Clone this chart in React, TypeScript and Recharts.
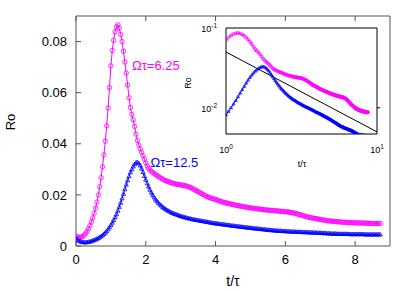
import React from 'react'
import { LineChart, Line, XAxis, YAxis } from 'recharts'

const FONT = '"Liberation Sans", Arial, sans-serif'
const MAGENTA = '#ff00ff'
const BLUE = '#0000ff'

// sampling step of the simulation output (t/tau)
const DT = 0.04

// Omega tau = 6.25
const roMagenta = [
  0.0038, 0.0035, 0.0033, 0.0033, 0.0035, 0.0038, 0.0043, 0.0050, 0.0058, 0.0068,
  0.0080, 0.0094, 0.0110, 0.0128, 0.0148, 0.0172, 0.0200, 0.0232, 0.0268, 0.0310,
  0.0357, 0.0410, 0.0470, 0.0540, 0.0620, 0.0705, 0.0765, 0.0805, 0.0838, 0.0858,
  0.0866, 0.0852, 0.0828, 0.0800, 0.0762, 0.0720, 0.0677, 0.0630, 0.0580, 0.0542,
  0.0515, 0.0494, 0.0468, 0.0438, 0.0413, 0.0395, 0.0380, 0.0366, 0.0353, 0.0340,
  0.0325, 0.0313, 0.0304, 0.0297, 0.0292, 0.0288, 0.0284, 0.0280, 0.0276, 0.0272,
  0.0269, 0.0265, 0.0262, 0.0259, 0.0256, 0.0254, 0.0252, 0.0250, 0.0248, 0.0246,
  0.0244, 0.0243, 0.0242, 0.0241, 0.0240, 0.0239, 0.0238, 0.0237, 0.0236, 0.0235,
  0.0233, 0.0231, 0.0229, 0.0226, 0.0223, 0.0220, 0.0217, 0.0214, 0.0211, 0.0208,
  0.0205, 0.0202, 0.0199, 0.0196, 0.0193, 0.0191, 0.0189, 0.0187, 0.0185, 0.0184,
  0.0182, 0.0180, 0.0178, 0.0176, 0.0174, 0.0172, 0.0171, 0.0169, 0.0168, 0.0167,
  0.0165, 0.0164, 0.0163, 0.0162, 0.0160, 0.0159, 0.0158, 0.0157, 0.0156, 0.0155,
  0.0154, 0.0153, 0.0152, 0.0151, 0.0150, 0.0149, 0.0148, 0.0148, 0.0147, 0.0146,
  0.0145, 0.0145, 0.0144, 0.0143, 0.0142, 0.0142, 0.0141, 0.0141, 0.0140, 0.0140,
  0.0139, 0.0139, 0.0138, 0.0138, 0.0137, 0.0137, 0.0136, 0.0136, 0.0135, 0.0135,
  0.0134, 0.0134, 0.0133, 0.0132, 0.0131, 0.0130, 0.0129, 0.0128, 0.0126, 0.0125,
  0.0123, 0.0122, 0.0120, 0.0118, 0.0117, 0.0115, 0.0114, 0.0112, 0.0111, 0.0110,
  0.0109, 0.0108, 0.0107, 0.0106, 0.0105, 0.0104, 0.0103, 0.0102, 0.0101, 0.0100,
  0.0099, 0.0098, 0.0098, 0.0097, 0.0097, 0.0096, 0.0096, 0.0095, 0.0095, 0.0094,
  0.0094, 0.0093, 0.0093, 0.0093, 0.0092, 0.0092, 0.0092, 0.0091, 0.0091, 0.0091,
  0.0091, 0.0090, 0.0090, 0.0090, 0.0090, 0.0090, 0.0089, 0.0089, 0.0089, 0.0089,
  0.0089, 0.0089, 0.0088, 0.0088, 0.0088, 0.0088, 0.0088, 0.0088, 0.0088,
]

// Omega tau = 12.5
const roBlue = [
  0.0028, 0.0024, 0.0020, 0.0017, 0.0015, 0.0014, 0.0013, 0.0013, 0.0014, 0.0015,
  0.0016, 0.0018, 0.0020, 0.0022, 0.0024, 0.0027, 0.0030, 0.0033, 0.0037, 0.0041,
  0.0046, 0.0051, 0.0057, 0.0064, 0.0072, 0.0081, 0.0090, 0.0100, 0.0111, 0.0123,
  0.0137, 0.0152, 0.0168, 0.0185, 0.0203, 0.0221, 0.0239, 0.0256, 0.0272, 0.0287,
  0.0299, 0.0310, 0.0319, 0.0325, 0.0327, 0.0323, 0.0314, 0.0302, 0.0288, 0.0273,
  0.0258, 0.0244, 0.0231, 0.0219, 0.0208, 0.0198, 0.0189, 0.0181, 0.0174, 0.0168,
  0.0162, 0.0157, 0.0152, 0.0148, 0.0144, 0.0140, 0.0137, 0.0134, 0.0131, 0.0128,
  0.0126, 0.0124, 0.0122, 0.0120, 0.0118, 0.0116, 0.0114, 0.0113, 0.0111, 0.0110,
  0.0108, 0.0107, 0.0106, 0.0104, 0.0103, 0.0102, 0.0101, 0.0100, 0.0099, 0.0098,
  0.0097, 0.0096, 0.0095, 0.0094, 0.0093, 0.0092, 0.0091, 0.0090, 0.0089, 0.0088,
  0.0087, 0.0087, 0.0086, 0.0085, 0.0084, 0.0084, 0.0083, 0.0082, 0.0081, 0.0081,
  0.0080, 0.0079, 0.0078, 0.0078, 0.0077, 0.0076, 0.0076, 0.0075, 0.0074, 0.0074,
  0.0073, 0.0072, 0.0072, 0.0071, 0.0070, 0.0070, 0.0069, 0.0068, 0.0068, 0.0067,
  0.0067, 0.0066, 0.0065, 0.0065, 0.0064, 0.0064, 0.0063, 0.0062, 0.0062, 0.0061,
  0.0061, 0.0060, 0.0060, 0.0059, 0.0059, 0.0058, 0.0058, 0.0058, 0.0057, 0.0057,
  0.0057, 0.0056, 0.0056, 0.0056, 0.0055, 0.0055, 0.0055, 0.0055, 0.0054, 0.0054,
  0.0054, 0.0054, 0.0053, 0.0053, 0.0053, 0.0053, 0.0052, 0.0052, 0.0052, 0.0052,
  0.0051, 0.0051, 0.0051, 0.0051, 0.0050, 0.0050, 0.0050, 0.0049, 0.0049, 0.0049,
  0.0048, 0.0048, 0.0048, 0.0047, 0.0047, 0.0047, 0.0047, 0.0047, 0.0046, 0.0046,
  0.0046, 0.0046, 0.0046, 0.0046, 0.0046, 0.0046, 0.0045, 0.0045, 0.0045, 0.0045,
  0.0045, 0.0045, 0.0045, 0.0045, 0.0045, 0.0045, 0.0045, 0.0044, 0.0044, 0.0044,
  0.0044, 0.0044, 0.0044, 0.0044, 0.0044, 0.0044, 0.0044, 0.0044, 0.0044,
]

// reference power law in the inset, Ro ~ t^-1
const powerT = [1, 10]
const powerRo = [0.05, 0.005]

const xTicks = [0, 2, 4, 6, 8]
const yTicks = [0, 0.02, 0.04, 0.06, 0.08]
const yTickLabels = ['0', '0.02', '0.04', '0.06', '0.08']
const insetXTicks = [1, 10]
const insetXExp = ['0', '1']
const insetYTicks = [0.01, 0.1]
const insetYExp = ['-2', '-1']

const rows = roMagenta.map((m, i) => ({
  t: Math.round(i * DT * 100) / 100,
  m,
  b: roBlue[i],
}))
const insetRows = rows.filter(r => r.t >= 1)
const powerRows = powerT.map((t, i) => ({ t, p: powerRo[i] }))

const circleDot = (r: number) => (p: any) => (
  <circle key={`c-${p.index}`} cx={p.cx} cy={p.cy} r={r} fill="none" stroke={MAGENTA} strokeWidth={0.8} />
)

const triDot = (s: number) => (p: any) => (
  <path
    key={`t-${p.index}`}
    d={`M${p.cx},${p.cy - s} L${p.cx + s * 0.87},${p.cy + s * 0.5} L${p.cx - s * 0.87},${p.cy + s * 0.5} Z`}
    fill="none"
    stroke={BLUE}
    strokeWidth={0.8}
  />
)

function PowTick(props: any) {
  const { x, y, payload, textAnchor, orientation } = props
  const v = payload.value
  let exp = ''
  if (orientation === 'bottom') exp = insetXExp[insetXTicks.indexOf(v)]
  else exp = insetYExp[insetYTicks.indexOf(v)]
  const baseY = orientation === 'bottom' ? y : y + 4
  return (
    <text x={x} y={baseY} textAnchor={textAnchor} fontSize={9} fill="#000" fontFamily={FONT}>
      10<tspan dy={-4} fontSize={6.5}>{exp}</tspan>
    </text>
  )
}

const noTick = () => <g />

export default function App() {
  const tickStyle = { fill: '#000', fontSize: 13, fontFamily: FONT }
  return (
    <div style={{ position: 'absolute', left: 0, top: 0, width: 415, height: 291, background: '#fff' }}>
      <LineChart width={415} height={291} data={rows} margin={{ top: 15, right: 24, bottom: 0, left: 0 }}>
        <XAxis
          xAxisId="b"
          dataKey="t"
          type="number"
          domain={[0, 9]}
          ticks={xTicks}
          interval={0}
          height={45}
          tickSize={-5}
          tickMargin={14}
          stroke="#555"
          tick={tickStyle}
          allowDataOverflow
        />
        <XAxis
          xAxisId="top"
          orientation="top"
          dataKey="t"
          type="number"
          domain={[0, 9]}
          ticks={xTicks}
          interval={0}
          height={1}
          tickSize={-5}
          stroke="#555"
          tick={noTick}
        />
        <YAxis
          yAxisId="l"
          type="number"
          domain={[0, 0.09]}
          ticks={yTicks}
          interval={0}
          width={76}
          tickSize={-5}
          tickMargin={14}
          stroke="#555"
          tick={tickStyle}
          tickFormatter={(v: number) => yTickLabels[yTicks.indexOf(v)] ?? String(v)}
        />
        <YAxis
          yAxisId="r"
          orientation="right"
          type="number"
          domain={[0, 0.09]}
          ticks={yTicks}
          interval={0}
          width={1}
          tickSize={-5}
          stroke="#555"
          tick={noTick}
        />
        <Line
          xAxisId="b"
          yAxisId="l"
          dataKey="m"
          stroke={MAGENTA}
          strokeWidth={1}
          dot={circleDot(2.2)}
          isAnimationActive={false}
        />
        <Line
          xAxisId="b"
          yAxisId="l"
          dataKey="b"
          stroke={BLUE}
          strokeWidth={1}
          dot={triDot(2.4)}
          isAnimationActive={false}
        />
      </LineChart>

      <div style={{ position: 'absolute', left: 166, top: 10 }}>
        <LineChart width={224} height={160} data={insetRows} margin={{ top: 17, right: 12, bottom: 0, left: 0 }}>
          <XAxis
            xAxisId="b"
            dataKey="t"
            type="number"
            scale="log"
            domain={[1, 10]}
            ticks={insetXTicks}
            interval={0}
            allowDataOverflow
            height={36}
            tickSize={0}
            tickMargin={19}
            tickLine={false}
            stroke="#000"
            tick={PowTick}
          />
          <XAxis
            xAxisId="top"
            orientation="top"
            dataKey="t"
            type="number"
            scale="log"
            domain={[1, 10]}
            ticks={insetXTicks}
            allowDataOverflow
            height={1}
            tickLine={false}
            stroke="#000"
            tick={noTick}
          />
          <YAxis
            yAxisId="l"
            type="number"
            scale="log"
            domain={[0.0047, 0.1]}
            ticks={insetYTicks}
            interval={0}
            allowDataOverflow
            width={60}
            tickSize={0}
            tickMargin={9}
            tickLine={false}
            stroke="#000"
            tick={PowTick}
          />
          <YAxis
            yAxisId="r"
            orientation="right"
            type="number"
            scale="log"
            domain={[0.0047, 0.1]}
            ticks={[0.01]}
            interval={0}
            allowDataOverflow
            width={1}
            tickSize={3}
            stroke="#000"
            tick={noTick}
          />
          <Line
            xAxisId="b"
            yAxisId="l"
            dataKey="m"
            stroke={MAGENTA}
            strokeWidth={1}
            dot={circleDot(1.5)}
            isAnimationActive={false}
          />
          <Line
            xAxisId="b"
            yAxisId="l"
            dataKey="b"
            stroke={BLUE}
            strokeWidth={1}
            dot={triDot(1.7)}
            isAnimationActive={false}
          />
          <Line
            xAxisId="b"
            yAxisId="l"
            data={powerRows}
            dataKey="p"
            stroke="#000"
            strokeWidth={1}
            dot={false}
            isAnimationActive={false}
          />
        </LineChart>
      </div>

      <svg width={415} height={291} style={{ position: 'absolute', left: 0, top: 0, pointerEvents: 'none' }}>
        <text transform="translate(15,122) rotate(-90)" textAnchor="middle" fontSize={13} fontFamily={FONT} fill="#000">
          Ro
        </text>
        <text x={233} y={286} textAnchor="middle" fontSize={14} fontFamily={FONT} fill="#000">
          t/τ
        </text>
        <text x={132} y={70} fontSize={13} fontFamily={FONT} fill={MAGENTA}>
          Ωτ=6.25
        </text>
        <text x={150.5} y={167} fontSize={13} fontFamily={FONT} fill={BLUE}>
          Ωτ=12.5
        </text>
        <text transform="translate(191,83) rotate(-90)" textAnchor="middle" fontSize={9} fontFamily={FONT} fill="#000">
          Ro
        </text>
        <text x={302} y={167} textAnchor="middle" fontSize={9} fontFamily={FONT} fill="#000">
          t/τ
        </text>
      </svg>
    </div>
  )
}
